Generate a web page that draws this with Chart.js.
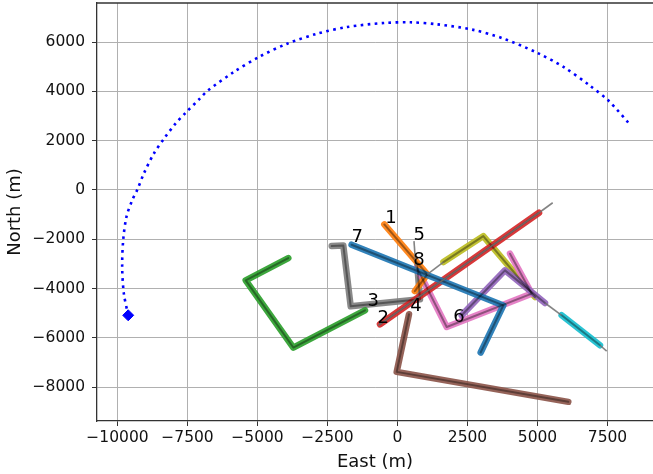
<!DOCTYPE html>
<html>
<head>
<meta charset="utf-8">
<script src="https://cdn.jsdelivr.net/npm/chart.js@4/dist/chart.umd.min.js"></script>
<style>
  html, body { margin: 0; padding: 0; background: #fff; }
  #wrap { width: 653px; height: 474px; }
</style>
</head>
<body>
<div id="wrap"><canvas id="track-chart"></canvas></div>
<script>
// observer path (dotted blue arc), East / North in metres
const arcEast = [-9618, -9774, -9833, -9797, -9679, -9475, -9297, -9060, -8703, -8316, -7928, -7571, -7060,
  -6797, -5845, -4952, -3940, -2869, -1797, -488, 464, 1417, 2667, 3738, 4988, 5940, 6857, 7548, 8296];
const arcNorth = [-5081, -4193, -3122, -2040, -1083, -418, 0, 665, 1476, 2117, 2692, 3123, 3706,
  4013, 4785, 5393, 5933, 6339, 6610, 6772, 6800, 6719, 6504, 6159, 5565, 4981, 4245, 3609, 2664];
const startEast = [-9618];
const startNorth = [-5081];

// target tracks [east, north]
const trackBlue = [[-1640, -2220], [3780, -4680], [2970, -6590]];
const trackOrange = [[-471, -1397], [1064, -3421], [620, -4100]];
const trackGreen = [[-3900, -2761], [-5421, -3664], [-3721, -6389], [-1161, -4879]];
const trackRed = [[-625, -5445], [5054, -923]];
const trackPurple = [[2292, -5081], [3839, -3259], [5268, -4583]];
const trackBrown = [[411, -5040], [-29, -7376], [6100, -8591]];
const trackPink = [[4018, -2583], [4793, -4202], [1757, -5555], [690, -3150]];
const trackGray = [[-2350, -2275], [-1936, -2247], [-1671, -4717], [804, -4433], [707, -3057]];
const trackOlive = [[1640, -2923], [3064, -1870], [4911, -4340]];
const trackCyan = [[5863, -5081], [7232, -6296]];

// thin predicted segments
const predRed = [[-690, -5490], [-625, -5445], [5054, -923], [5543, -518]];
const predOrangeOlive = [[1064, -3421], [1640, -2923]];
const predFive = [[589, -2072], [661, -3190]];
const predPurpleCyan = [[5268, -4583], [5863, -5081]];
const predCyan = [[7232, -6296], [7470, -6538]];

// track number labels
const labelText = ["1", "2", "3", "4", "5", "6", "7", "8"];
const labelEast = [-232, -507, -864, 661, 779, 2196, -1436, 768];
const labelNorth = [-1167, -5215, -4514, -4717, -1842, -5150, -1911, -2854];

const xTickValues = [-10000, -7500, -5000, -2500, 0, 2500, 5000, 7500];
const yTickValues = [-8000, -6000, -4000, -2000, 0, 2000, 4000, 6000];

const tracks = [trackBlue, trackOrange, trackGreen, trackRed, trackPurple,
  trackBrown, trackPink, trackGray, trackOlive, trackCyan];
const trackColors = ["rgba(31,119,180,0.92)", "rgba(255,127,14,0.92)", "rgba(44,160,44,0.92)",
  "rgba(214,39,40,0.92)", "rgba(148,103,189,0.92)", "rgba(140,86,75,0.92)", "rgba(227,119,194,0.92)",
  "rgba(127,127,127,0.92)", "rgba(188,189,34,0.92)", "rgba(23,190,207,0.92)"];
const preds = [predRed, predOrangeOlive, predFive, predPurpleCyan, predCyan];

const toXY = pts => pts.map(p => ({ x: p[0], y: p[1] }));
const minus = v => String(v).replace("-", "\u2212");
const noPad = s => { s.paddingTop = 0; s.paddingBottom = 0; s.paddingLeft = 0; s.paddingRight = 0; };

const datasets = [];
datasets.push({
  data: arcEast.map((e, i) => ({ x: e, y: arcNorth[i] })),
  showLine: true, borderColor: "#0000ff", borderWidth: 2.6, borderDash: [2.6, 4.4],
  borderCapStyle: "butt", tension: 0.3, pointRadius: 0, order: 5
});
datasets.push({
  data: startEast.map((e, i) => ({ x: e, y: startNorth[i] })),
  pointStyle: "rectRot", pointRadius: 5.5, backgroundColor: "#0000ff", borderColor: "#0000ff",
  borderWidth: 1, order: 5
});
tracks.forEach((t, i) => {
  datasets.push({
    data: toXY(t), showLine: true, borderColor: trackColors[i], borderWidth: 6.5,
    borderCapStyle: "round", borderJoinStyle: "round", pointRadius: 0, order: 3
  });
  datasets.push({
    data: toXY(t), showLine: true, borderColor: "rgba(0,0,0,0.38)", borderWidth: 2,
    borderCapStyle: "round", borderJoinStyle: "round", pointRadius: 0, order: 2
  });
});
preds.forEach(p => {
  datasets.push({
    data: toXY(p), showLine: true, borderColor: "rgba(110,110,110,0.85)", borderWidth: 1.6,
    pointRadius: 0, order: 1
  });
});

const labelPlugin = {
  id: "trackLabels",
  afterDatasetsDraw(chart) {
    const { ctx, scales: { x, y } } = chart;
    ctx.save();
    ctx.font = "18px 'DejaVu Sans'";
    ctx.fillStyle = "#000";
    ctx.textAlign = "center";
    ctx.textBaseline = "middle";
    labelText.forEach((s, i) => {
      ctx.fillText(s, x.getPixelForValue(labelEast[i]), y.getPixelForValue(labelNorth[i]));
    });
    ctx.restore();
  },
  afterDraw(chart) {
    const { ctx, chartArea: a } = chart;
    ctx.save();
    ctx.strokeStyle = "#333";
    ctx.lineWidth = 1.3;
    ctx.beginPath();
    ctx.moveTo(a.left, a.top);
    ctx.lineTo(a.right, a.top);
    ctx.stroke();
    ctx.restore();
  }
};

new Chart("track-chart", {
  type: "scatter",
  data: { datasets },
  options: {
    responsive: true,
    maintainAspectRatio: false,
    animation: false,
    layout: { autoPadding: false, padding: { top: 3, left: 0, right: 0, bottom: 0 } },
    plugins: { legend: { display: false }, tooltip: { enabled: false } },
    scales: {
      x: {
        type: "linear", min: -10732, max: 9125,
        afterBuildTicks: s => { s.ticks = xTickValues.map(v => ({ value: v })); },
        afterFit: s => { s.height = 53; noPad(s); },
        border: { color: "#333", width: 1.3 },
        grid: { color: "#b0b0b0", lineWidth: 1, tickLength: 5, tickColor: "#333" },
        ticks: {
          maxRotation: 0, autoSkip: false, padding: 3,
          color: "#111", font: { family: "DejaVu Sans", size: 15.5 }, callback: v => minus(v)
        },
        title: {
          display: true, text: "East (m)", color: "#111", padding: { top: 0, bottom: 1 },
          font: { family: "DejaVu Sans", size: 18 }
        }
      },
      y: {
        type: "linear", min: -9368, max: 7583,
        afterBuildTicks: s => { s.ticks = yTickValues.map(v => ({ value: v })); },
        afterFit: s => { s.width = 97; noPad(s); },
        border: { color: "#333", width: 1.3 },
        grid: { color: "#b0b0b0", lineWidth: 1, tickLength: 5, tickColor: "#333" },
        ticks: {
          autoSkip: false, padding: 7,
          color: "#111", font: { family: "DejaVu Sans", size: 15.5 }, callback: v => minus(v)
        },
        title: {
          display: true, text: "North (m)", color: "#111", padding: { top: 5, bottom: 0 },
          font: { family: "DejaVu Sans", size: 18 }
        }
      }
    }
  },
  plugins: [labelPlugin]
});
</script>
</body>
</html>
